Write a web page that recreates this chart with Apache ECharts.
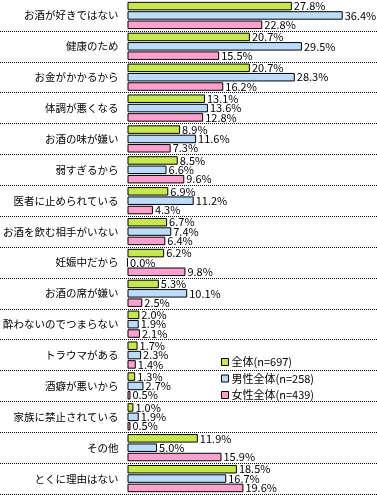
<!DOCTYPE html>
<html><head><meta charset="utf-8">
<script src="https://cdn.jsdelivr.net/npm/echarts@6/dist/echarts.min.js"></script>
<style>html,body{margin:0;padding:0;background:#fff}#c{width:377px;height:495px}</style>
</head><body><div id="c"></div>
<script>
const categories = ['お酒が好きではない','健康のため','お金がかかるから','体調が悪くなる','お酒の味が嫌い','弱すぎるから','医者に止められている','お酒を飲む相手がいない','妊娠中だから','お酒の席が嫌い','酔わないのでつまらない','トラウマがある','酒癖が悪いから','家族に禁止されている','その他','とくに理由はない'];
const seriesNames = ['全体(n=697)','男性全体(n=258)','女性全体(n=439)'];
const allValues = [27.8,20.7,20.7,13.1,8.9,8.5,6.9,6.7,6.2,5.3,2.0,1.7,1.3,1.0,11.9,18.5];
const maleValues = [36.4,29.5,28.3,13.6,11.6,6.6,11.2,7.4,0.0,10.1,1.9,2.3,2.7,1.9,5.0,16.7];
const femaleValues = [22.8,15.5,16.2,12.8,7.3,9.6,4.3,6.4,9.8,2.5,2.1,1.4,0.5,0.5,15.9,19.6];
const colors = ['#C6E84E','#BDDCFC','#FFA0CF'];
const FONT = '"Noto Sans CJK JP", sans-serif';

const chart = echarts.init(document.getElementById('c'), null, {renderer:'canvas'});
function mk(name, data, color){
  return {
    type:'bar', name, data, xAxisIndex:0, yAxisIndex:0,
    barWidth: 8.5, barGap:'10%', barCategoryGap:'12%',
    itemStyle:{color, borderColor:'#000', borderWidth:1},
    label:{show:true, position:'right', distance:2, color:'#000', fontSize:11, fontFamily:FONT,
      formatter:p=>Number(p.value).toFixed(1)+'%'},
    animation:false
  };
}
chart.setOption({
  animation:false,
  textStyle:{fontFamily:FONT},
  grid:[
    {left:127, top:0, width:237, height:494},
    {left:0, right:0, top:494/16, height:494*15/16}
  ],
  xAxis:[
    {gridIndex:0, type:'value', min:0, max:40, show:false},
    {gridIndex:1, type:'value', min:0, max:1, show:false}
  ],
  yAxis:[
    {gridIndex:0, type:'category', data:categories, inverse:true,
     axisLine:{show:false}, axisTick:{show:false}, splitLine:{show:false},
     axisLabel:{color:'#000', fontSize:10.5, fontFamily:FONT, margin:9}},
    {gridIndex:1, type:'category', data:categories.slice(1), inverse:true,
     axisLine:{show:false}, axisTick:{show:false}, axisLabel:{show:false},
     splitLine:{show:true, lineStyle:{color:'#000', width:1, type:[1,1]}}}
  ],
  legend:{
    orient:'vertical', left:216, top:351, itemWidth:7, itemHeight:7, itemGap:4.5,
    icon:'rect', data:seriesNames,
    itemStyle:{borderColor:'#000', borderWidth:1},
    textStyle:{color:'#000', fontSize:11, fontFamily:FONT, lineHeight:12, padding:[0,0,0,-2]}
  },
  series:[mk(seriesNames[0], allValues, colors[0]), mk(seriesNames[1], maleValues, colors[1]), mk(seriesNames[2], femaleValues, colors[2])]
});
</script></body></html>
